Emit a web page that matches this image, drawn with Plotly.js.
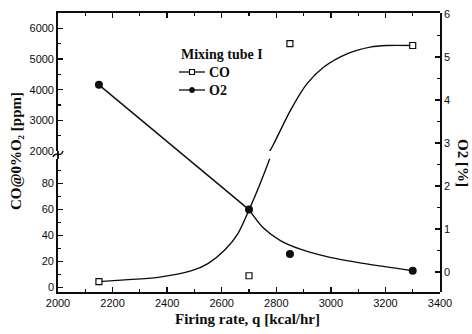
<!DOCTYPE html>
<html>
<head>
<meta charset="utf-8">
<script src="https://cdn.plot.ly/plotly-3.0.1.min.js"></script>
<style>
  html, body { margin: 0; padding: 0; background: #fff; }
  #chart { width: 472px; height: 334px; }
</style>
</head>
<body>
<div id="chart"></div>
<script>
// Measured points: firing rate vs CO (ppm, corrected to 0% O2) and O2 (%)
const firingRate = [2150, 2700, 2850, 3300];
const coPpm = [4.5, 9, 5500, 5440];
const o2Pct = [4.35, 1.45, 0.42, 0.03];

// Trend curves drawn through the data
const coCurveLowX = [2150, 2245, 2367, 2490, 2551, 2612, 2660, 2700, 2741, 2778, 2790];
const coCurveLowY = [4.5, 5.8, 7.8, 12.9, 18.6, 29, 41.7, 59.6, 80, 100.6, 112];
const coCurveHighX = [2770, 2790, 2851, 2912, 2973, 3059, 3144, 3205, 3300];
const coCurveHighY = [1900, 2220, 3311, 4187, 4731, 5170, 5388, 5440, 5440];
const o2LineX = [2150, 2700];
const o2LineY = [4.35, 1.45];
const o2CurveX = [2700, 2753, 2815, 2888, 2997, 3119, 3300];
const o2CurveY = [1.45, 1.02, 0.73, 0.53, 0.34, 0.2, 0.03];

// Axis tick labels
const xTicks = [2000, 2200, 2400, 2600, 2800, 3000, 3200, 3400];
const coLowTicks = [0, 20, 40, 60, 80];
const coHighTicks = [2000, 3000, 4000, 5000, 6000];
const o2Ticks = [0, 1, 2, 3, 4, 5, 6];

const BREAK = 1000; // CO values below this go on the lower (broken) axis

const ink = '#0d0d0d';
const serif = 'Liberation Serif, Times New Roman, serif';
const sans = 'Liberation Sans, Arial, sans-serif';

// plot area in pixels: left 58, right 440, top 13, bottom 292
const L = 58, R = 440, T = 13, B = 292;
const px = v => (v - L) / (R - L);
const py = v => (B - v) / (B - T);

const lowIdx = firingRate.map((_, i) => i).filter(i => coPpm[i] < BREAK);
const highIdx = firingRate.map((_, i) => i).filter(i => coPpm[i] >= BREAK);

const lineStyle = { color: ink, width: 1.4 };
const coMarker = { symbol: 'square', size: 6, color: '#fff', line: { color: ink, width: 1.2 } };
const o2Marker = { symbol: 'circle', size: 8, color: ink };

const traces = [
  { x: coCurveLowX, y: coCurveLowY, xaxis: 'x', yaxis: 'y', mode: 'lines',
    line: Object.assign({ shape: 'spline', smoothing: 0.8 }, lineStyle), hoverinfo: 'skip' },
  { x: coCurveHighX, y: coCurveHighY, xaxis: 'x2', yaxis: 'y2', mode: 'lines',
    line: Object.assign({ shape: 'spline', smoothing: 0.8 }, lineStyle), hoverinfo: 'skip' },
  { x: o2LineX, y: o2LineY, xaxis: 'x', yaxis: 'y3', mode: 'lines', line: lineStyle, hoverinfo: 'skip' },
  { x: o2CurveX, y: o2CurveY, xaxis: 'x', yaxis: 'y3', mode: 'lines',
    line: Object.assign({ shape: 'spline', smoothing: 0.8 }, lineStyle), hoverinfo: 'skip' },
  { x: lowIdx.map(i => firingRate[i]), y: lowIdx.map(i => coPpm[i]), xaxis: 'x', yaxis: 'y',
    mode: 'markers', marker: coMarker, cliponaxis: false, name: 'CO' },
  { x: highIdx.map(i => firingRate[i]), y: highIdx.map(i => coPpm[i]), xaxis: 'x2', yaxis: 'y2',
    mode: 'markers', marker: coMarker, cliponaxis: false, name: 'CO' },
  { x: firingRate, y: o2Pct, xaxis: 'x', yaxis: 'y3',
    mode: 'markers', marker: o2Marker, cliponaxis: false, name: 'O2' }
];

const minorTick = { ticks: 'inside', ticklen: 3, tickcolor: ink, tickwidth: 1.2 };
const axisBase = {
  showline: true, linecolor: ink, linewidth: 1.8, mirror: false,
  showgrid: false, zeroline: false,
  ticks: 'inside', ticklen: 5, tickwidth: 1.3, tickcolor: ink,
  tickfont: { family: sans, size: 11, color: ink }
};

const lowTop = 99;          // lower CO axis spans -3.5 .. 99
const lowDomainTop = py(287.5 - lowTop * 1.3);
const highDomainBottom = py(151);

const layout = {
  width: 472, height: 334,
  margin: { l: L, r: 472 - R, t: T, b: 334 - B, pad: 0 },
  paper_bgcolor: '#fff', plot_bgcolor: 'rgba(0,0,0,0)',
  showlegend: false,
  xaxis: Object.assign({}, axisBase, {
    range: [2000, 3400], anchor: 'y', domain: [0, 1],
    tickmode: 'array', tickvals: xTicks, ticktext: xTicks.map(String),
    minor: Object.assign({ dtick: 100, tick0: 2000 }, minorTick)
  }),
  xaxis2: Object.assign({}, axisBase, {
    range: [2000, 3400], anchor: 'y2', domain: [0, 1], side: 'top', matches: 'x',
    showticklabels: false, tickmode: 'array', tickvals: xTicks,
    minor: Object.assign({ dtick: 100, tick0: 2000 }, minorTick)
  }),
  yaxis: Object.assign({}, axisBase, {
    range: [-3.5, lowTop], anchor: 'x', domain: [0, lowDomainTop],
    tickmode: 'array', tickvals: coLowTicks, ticktext: coLowTicks.map(String),
    minor: Object.assign({ dtick: 10, tick0: 0 }, minorTick)
  }),
  yaxis2: Object.assign({}, axisBase, {
    range: [2000, 6500], anchor: 'x2', domain: [highDomainBottom, 1],
    tickmode: 'array', tickvals: coHighTicks, ticktext: coHighTicks.map(String),
    minor: Object.assign({ dtick: 500, tick0: 2000 }, minorTick)
  }),
  yaxis3: Object.assign({}, axisBase, {
    range: [-0.465, 6.02], anchor: 'x', side: 'right', domain: [0, 1],
    tickmode: 'array', tickvals: o2Ticks, ticktext: o2Ticks.map(String),
    minor: Object.assign({ dtick: 0.5, tick0: 0 }, minorTick)
  }),
  shapes: [
    // axis break on the CO axis
    { type: 'line', xref: 'paper', yref: 'paper', x0: 0, x1: 0, y0: py(151), y1: py(159),
      line: { color: ink, width: 1.8 } },
    { type: 'path', xref: 'paper', yref: 'paper',
      path: `M ${px(53)} ${py(157)} C ${px(56)} ${py(150)}, ${px(60)} ${py(159)}, ${px(63)} ${py(151)}`,
      line: { color: ink, width: 1.4 } },
    // legend samples
    { type: 'line', xref: 'paper', yref: 'paper', x0: px(179), x1: px(205), y0: py(72), y1: py(72),
      line: { color: ink, width: 1.3 } },
    { type: 'rect', xref: 'paper', yref: 'paper', x0: px(189.5), x1: px(194.5), y0: py(74.5), y1: py(69.5),
      fillcolor: '#fff', line: { color: ink, width: 1.1 } },
    { type: 'line', xref: 'paper', yref: 'paper', x0: px(179), x1: px(205), y0: py(90), y1: py(90),
      line: { color: ink, width: 1.3 } },
    { type: 'circle', xref: 'paper', yref: 'paper', x0: px(189.5), x1: px(194.5), y0: py(92.5), y1: py(87.5),
      fillcolor: ink, line: { color: ink, width: 1 } }
  ],
  annotations: [
    { text: '<b>Mixing tube I</b>', xref: 'paper', yref: 'paper', x: px(179), y: py(54),
      xanchor: 'left', yanchor: 'middle', showarrow: false, font: { family: serif, size: 14, color: ink } },
    { text: '<b>CO</b>', xref: 'paper', yref: 'paper', x: px(207), y: py(72),
      xanchor: 'left', yanchor: 'middle', showarrow: false, font: { family: serif, size: 14, color: ink } },
    { text: '<b>O2</b>', xref: 'paper', yref: 'paper', x: px(207), y: py(90),
      xanchor: 'left', yanchor: 'middle', showarrow: false, font: { family: serif, size: 14, color: ink } },
    { text: '<b>Firing rate, q [kcal/hr]</b>', xref: 'paper', yref: 'paper', x: px(247), y: py(319),
      xanchor: 'center', yanchor: 'middle', showarrow: false, font: { family: serif, size: 15, color: ink } },
    { text: '<b>CO@0%O₂ [ppm]</b>', xref: 'paper', yref: 'paper', x: px(16), y: py(151),
      xanchor: 'center', yanchor: 'middle', textangle: -90, showarrow: false,
      font: { family: serif, size: 15, color: ink } },
    { text: '<b>O2 [%]</b>', xref: 'paper', yref: 'paper', x: px(463), y: py(163),
      xanchor: 'center', yanchor: 'middle', textangle: 90, showarrow: false,
      font: { family: serif, size: 15, color: ink } }
  ]
};

Plotly.newPlot('chart', traces, layout, { staticPlot: true, displayModeBar: false });
</script>
</body>
</html>
